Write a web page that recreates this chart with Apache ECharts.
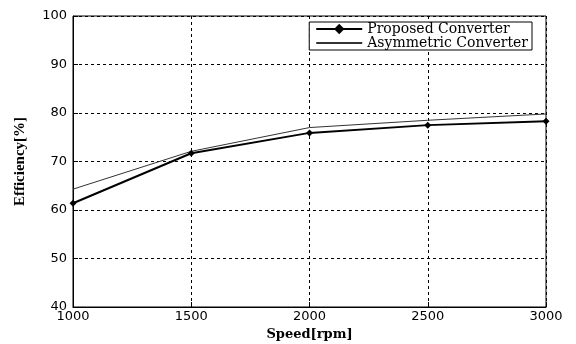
<!DOCTYPE html>
<html>
<head>
<meta charset="utf-8">
<script src="https://cdn.jsdelivr.net/npm/echarts@6/dist/echarts.min.js"></script>
<style>
  html, body { margin: 0; padding: 0; background: #fff; }
  #chart { width: 576px; height: 344px; }
</style>
</head>
<body>
<div id="chart"></div>
<script>
// speed in rpm, efficiency in %
let speeds = [1000, 1500, 2000, 2500, 3000];
let proposed = [61.4, 71.7, 75.9, 77.5, 78.3];
let asymmetric = [64.3, 72.1, 77.0, 78.5, 79.8];

function toPairs(xs, ys) {
    let out = [];
    for (var i = 0; i < xs.length; i++) {
        out.push([xs[i], ys[i]]);
    }
    return out;
}

let dashed = {
    show: true,
    lineStyle: { color: '#000', type: [3, 3], width: 1 }
};

let option = {
    animation: false,
    backgroundColor: '#fff',
    grid: {
        left: 73, right: 30, top: 16, bottom: 37,
        outerBoundsMode: 'none',
        show: true,
        borderColor: '#000',
        borderWidth: 1
    },
    legend: {
        orient: 'vertical',
        right: 44,
        top: 22,
        backgroundColor: '#fff',
        borderColor: '#000',
        borderWidth: 1,
        borderRadius: 0,
        padding: [0, 4, 0, 6],
        itemGap: 0,
        itemWidth: 46,
        itemHeight: 13,
        textStyle: { fontFamily: 'DejaVu Serif', fontSize: 14, color: '#000' },
        data: [
            { name: 'Proposed Converter' },
            { name: 'Asymmetric Converter', itemStyle: { color: 'rgba(0,0,0,0)', borderWidth: 0 } }
        ]
    },
    xAxis: {
        type: 'value',
        min: 1000,
        max: 3000,
        interval: 500,
        name: 'Speed[rpm]',
        nameLocation: 'middle',
        nameGap: 19,
        nameTextStyle: { fontFamily: 'DejaVu Serif', fontWeight: 'bold', fontSize: 13, color: '#000' },
        axisLine: { lineStyle: { color: '#000' } },
        axisTick: { inside: true, length: 5, lineStyle: { color: '#000' } },
        axisLabel: {
            color: '#000', fontFamily: 'DejaVu Sans', fontSize: 13, margin: 3,
            formatter: function (v) { return String(v); }
        },
        splitLine: dashed
    },
    yAxis: {
        type: 'value',
        min: 40,
        max: 100,
        interval: 10,
        name: 'Efficiency[%]',
        nameLocation: 'middle',
        nameGap: 45,
        nameTextStyle: { fontFamily: 'Liberation Serif', fontWeight: 'bold', fontSize: 15, color: '#000' },
        axisLine: { show: true, lineStyle: { color: '#000' } },
        axisTick: { show: true, inside: true, length: 5, lineStyle: { color: '#000' } },
        axisLabel: { color: '#000', fontFamily: 'DejaVu Sans', fontSize: 13, margin: 6 },
        splitLine: dashed
    },
    series: [
        {
            name: 'Proposed Converter',
            type: 'line',
            data: toPairs(speeds, proposed),
            symbol: 'diamond',
            symbolSize: 7,
            itemStyle: { color: '#000' },
            lineStyle: { color: '#000', width: 2 },
            z: 3
        },
        {
            name: 'Asymmetric Converter',
            type: 'line',
            data: toPairs(speeds, asymmetric),
            symbol: 'none',
            itemStyle: { color: '#333' },
            lineStyle: { color: '#333', width: 1 },
            z: 2
        }
    ]
};

var chart = echarts.init(document.getElementById('chart'));
chart.setOption(option);
</script>
</body>
</html>
